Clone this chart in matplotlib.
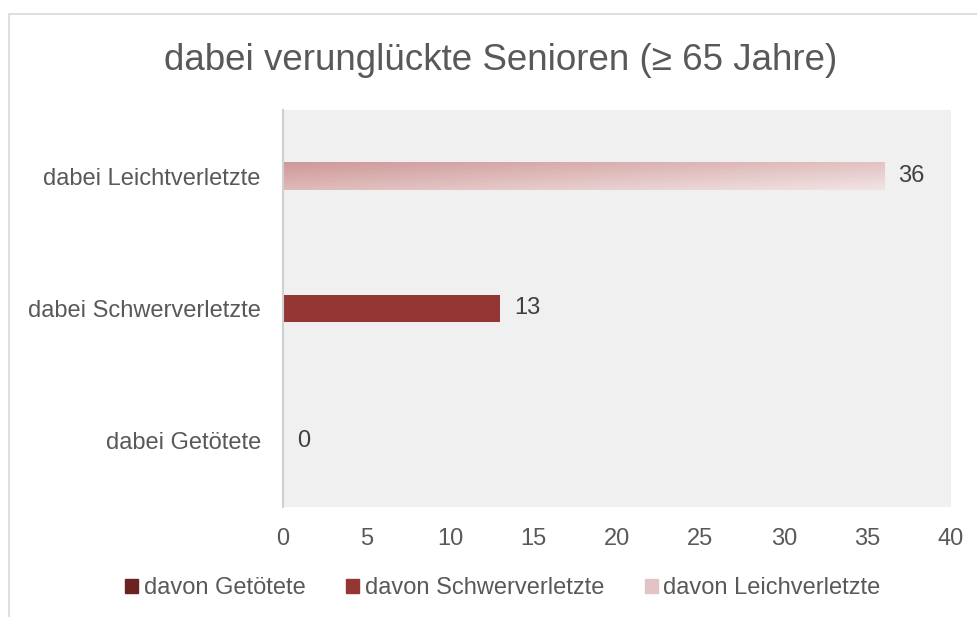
import numpy as np
import matplotlib.pyplot as plt
from matplotlib.patches import Rectangle
from matplotlib.colors import LinearSegmentedColormap

plt.rcParams['font.family'] = ['Liberation Sans', 'DejaVu Sans']

categories = ["dabei Getötete", "dabei Schwerverletzte", "dabei Leichtverletzte"]
values = [0, 13, 36]
legend_labels = ["davon Getötete", "davon Schwerverletzte", "davon Leichverletzte"]
xticks = [0, 5, 10, 15, 20, 25, 30, 35, 40]

c_dead = "#6b2222"
c_severe = "#943634"
grad = LinearSegmentedColormap.from_list("g", ["#cf9898", "#f2e4e4"])
txt = "#595959"

fig = plt.figure(figsize=(9.77, 6.17), dpi=100)
W, H = 977, 617
ax = fig.add_axes([283 / W, 1 - 507 / H, (951 - 283) / W, (507 - 110) / H])
ax.set_facecolor("#f0f0f0")

# outer chart frame
fig.patches.append(Rectangle((8.5 / W, -0.1), 1.2, 1 - 14 / H + 0.1, transform=fig.transFigure,
                             fill=False, edgecolor="#d9d9d9", lw=1.2))

y = np.arange(len(categories))
bh = 0.21
bars = ax.barh(y, values, height=bh, color=[c_dead, c_severe, "none"], zorder=2)

# gradient for light injuries
b = bars[2]
yy, xx = np.mgrid[0:1:100j, 0:1:400j]
g = 0.75 * xx + 0.6 * yy
img = ax.imshow(g, cmap=grad, aspect="auto", zorder=2,
                extent=[0, values[2], y[2] - bh / 2, y[2] + bh / 2], origin="upper")
img.set_clip_path(b)

ax.set_xlim(0, 40)
ax.set_ylim(-0.5, 2.5)
ax.set_xticks(xticks)
ax.set_yticks(y)
ax.set_yticklabels(categories)
ax.tick_params(length=0, labelsize=17, colors=txt)
ax.tick_params(axis="x", pad=15)
ax.tick_params(axis="y", pad=16)
for s in ["top", "right", "bottom"]:
    ax.spines[s].set_visible(False)
ax.spines["left"].set_color("#d0d0d0")
ax.spines["left"].set_linewidth(1.5)

for yi, v in zip(y, values):
    ax.annotate(str(v), (v, yi), xytext=(10, 0), textcoords="offset points",
                va="center", ha="left", fontsize=17, color="#404040")

fig.text(501 / W, 1 - 60 / H, "dabei verunglückte Senioren (≥ 65 Jahre)",
         ha="center", va="center", fontsize=26.5, color=txt)

handles = [Rectangle((0, 0), 1, 1, color=c_dead), Rectangle((0, 0), 1, 1, color=c_severe),
           Rectangle((0, 0), 1, 1, color="#e2c4c4")]
fig.legend(handles, legend_labels, loc="center", bbox_to_anchor=(503 / W, 1 - 588 / H), ncol=3,
           frameon=False, fontsize=17, handlelength=0.55, handleheight=0.55,
           handletextpad=0.25, columnspacing=1.7, labelcolor=txt)

fig.savefig("out.png", dpi=100, facecolor="white")
